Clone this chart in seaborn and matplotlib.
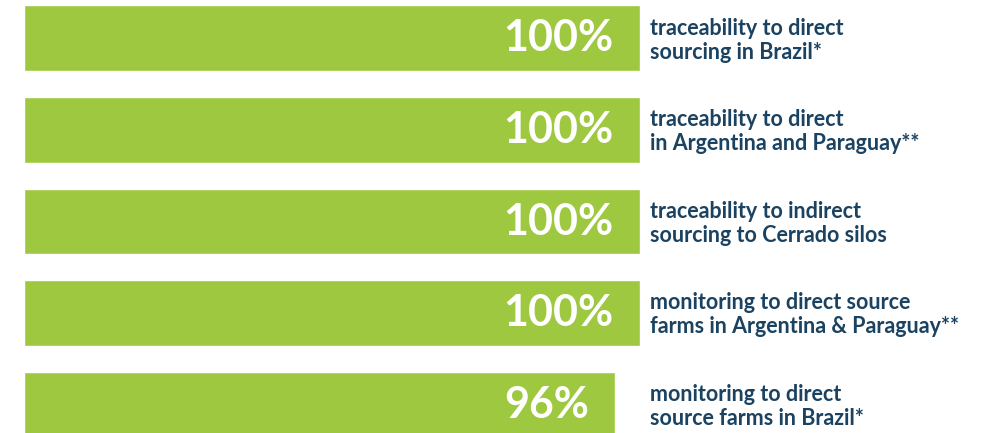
import matplotlib
matplotlib.use("Agg")
import matplotlib.pyplot as plt
import seaborn as sns
import pandas as pd

# values
labels = [
    "traceability to direct\nsourcing in Brazil*",
    "traceability to direct\nin Argentina and Paraguay**",
    "traceability to indirect\nsourcing to Cerrado silos",
    "monitoring to direct source\nfarms in Argentina & Paraguay**",
    "monitoring to direct\nsource farms in Brazil*",
]
values = [100, 100, 100, 100, 96]

df = pd.DataFrame({"label": labels, "value": values})

sns.set_style("white")
plt.rcParams["font.family"] = ["Lato", "DejaVu Sans"]

fig = plt.figure(figsize=(10, 4.33), dpi=100)
ax = fig.add_axes([0.024, 0, 0.616, 1])

sns.barplot(data=df, x="value", y="label", orient="h", color="#9ec83f",
            width=0.72, saturation=1, ax=ax)

ax.set_xlim(0, 100)
ax.set_ylim(4.31, -0.42)
ax.axis("off")

for i, (lab, v) in enumerate(zip(labels, values)):
    ax.text(v - 4.3, i, f"{v}%", ha="right", va="center", color="white",
            fontsize=31, fontweight="bold")
    ax.text(101.6, i + 0.02, lab, ha="left", va="center", color="#1b4361",
            fontsize=15.5, fontweight="bold", linespacing=1.18, clip_on=False)

fig.savefig("out.png", dpi=100)
